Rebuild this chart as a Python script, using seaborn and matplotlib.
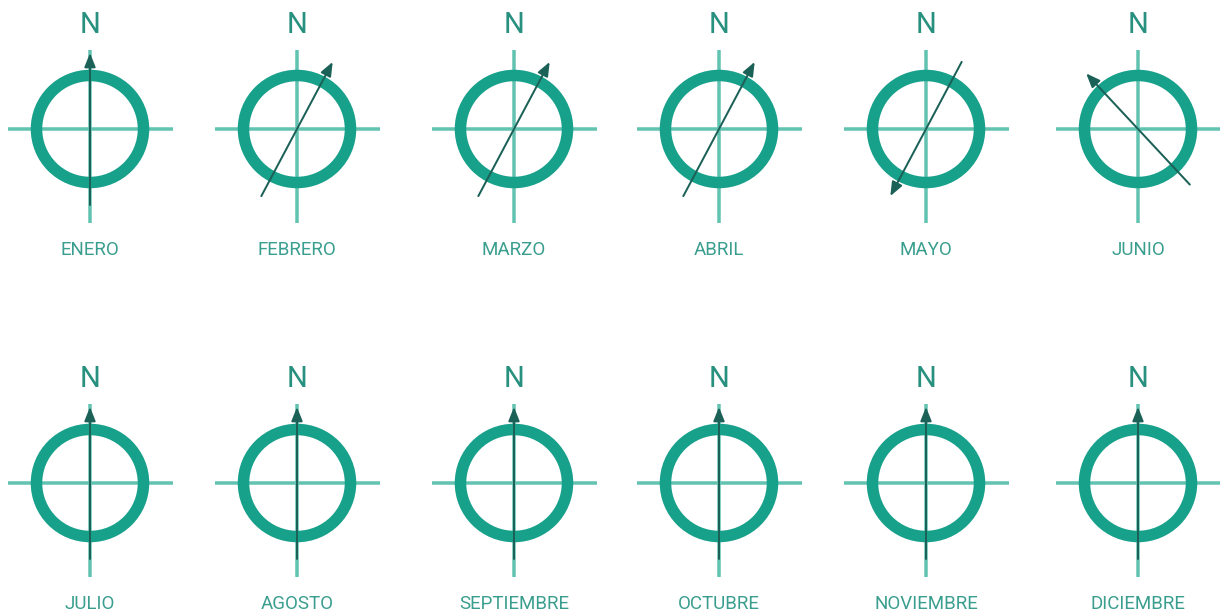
import numpy as np
import pandas as pd
import matplotlib
matplotlib.use("Agg")
import matplotlib.pyplot as plt
from matplotlib.patches import Circle
import seaborn as sns

# ---- data ----
months = ["ENERO", "FEBRERO", "MARZO", "ABRIL", "MAYO", "JUNIO",
          "JULIO", "AGOSTO", "SEPTIEMBRE", "OCTUBRE", "NOVIEMBRE", "DICIEMBRE"]
# wind direction in degrees clockwise from north (direction the arrow points)
direction_deg = [0, 28, 28, 28, 208, 317, 0, 0, 0, 0, 0, 0]
north_label = "N"

# ---- layout / style ----
W, H = 1220, 616
col_x = [90, 297, 514, 719, 926, 1138]
row_y = [129, 483]
ring_r = 53.5
ring_w_px = 11.5
cross_half_h = 82
cross_up, cross_down = 79, 94
arrow_half = 76
ring_col = "#17a08a"
cross_col = "#62c3b1"
arrow_col = "#1c6158"
n_col = "#28907f"
label_col = "#3a9e8e"

sns.set_theme(style="white")
plt.rcParams["font.family"] = ["Roboto", "DejaVu Sans"]

fig = plt.figure(figsize=(W / 100, H / 100), dpi=100)
ax = fig.add_axes([0, 0, 1, 1])

px2pt = 72 / 100

centers = [(col_x[i % 6], row_y[i // 6]) for i in range(len(months))]

# crosshair segments through seaborn
rows = []
for i, (cx, cy) in enumerate(centers):
    rows += [dict(seg=f"h{i}", x=cx - cross_half_h, y=cy),
             dict(seg=f"h{i}", x=cx + cross_half_h + 1, y=cy),
             dict(seg=f"v{i}", x=cx, y=cy - cross_up),
             dict(seg=f"v{i}", x=cx, y=cy + cross_down)]
cross_df = pd.DataFrame(rows)
sns.lineplot(data=cross_df, x="x", y="y", units="seg", estimator=None, sort=False,
             color=cross_col, lw=3.5 * px2pt, ax=ax, legend=False,
             solid_capstyle="butt")
ax.set_xlim(0, W)
ax.set_ylim(H, 0)
ax.set_axis_off()

for i, (cx, cy) in enumerate(centers):
    ax.add_patch(Circle((cx, cy), ring_r, fill=False, ec=ring_col,
                        lw=ring_w_px * px2pt, zorder=3))
    th = np.deg2rad(direction_deg[i])
    dx, dy = np.sin(th), -np.cos(th)
    tip = (cx + arrow_half * dx, cy + arrow_half * dy)
    tail = (cx - arrow_half * dx, cy - arrow_half * dy)
    ax.annotate("", xy=tip, xytext=tail,
                arrowprops=dict(arrowstyle="-|>,head_length=0.7,head_width=0.28",
                                color=arrow_col, lw=2 * px2pt,
                                shrinkA=0, shrinkB=0),
                zorder=4)
    ax.text(cx, cy - 104, north_label, ha="center", va="center",
            fontsize=21, color=n_col, fontweight="normal")
    ax.text(cx, cy + 121, months[i], ha="center", va="center",
            fontsize=13.5, color=label_col)

fig.savefig("out.png", dpi=100, facecolor="white")
